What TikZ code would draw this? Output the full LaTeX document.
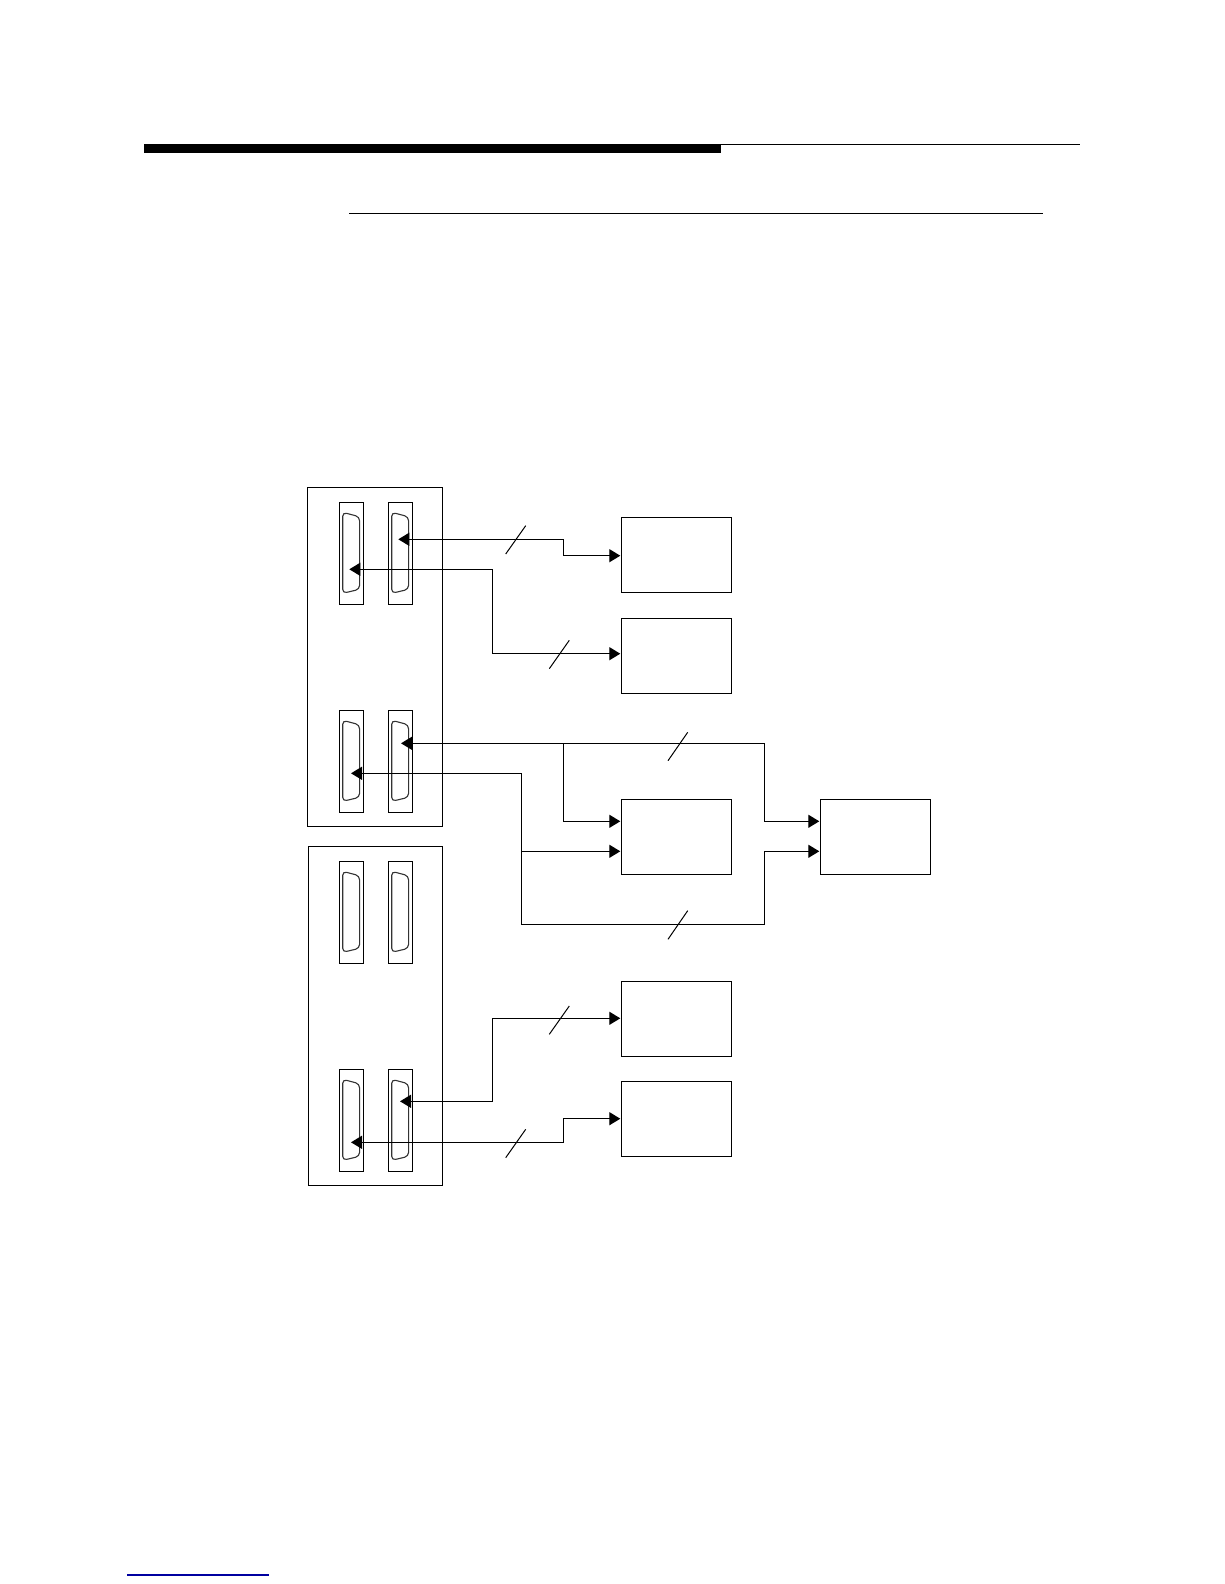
\documentclass[tikz,border=0pt]{standalone}
\usetikzlibrary{arrows.meta}
\definecolor{footblue}{RGB}{0,0,160}
\tikzset{
  line/.style={line width=1.3pt},
  panel/.style={draw,line width=1.3pt,inner sep=0pt,outer sep=0pt,anchor=north west},
  devbox/.style={panel,minimum width=110.4pt,minimum height=75pt},
  socket/.style={panel,minimum width=24pt,minimum height=102pt},
  shellline/.style={draw=black!80,line width=1.1pt,rounded corners=4pt},
  tick/.style={line width=1pt},
  wire/.style={line width=1.3pt,-{Triangle[length=11pt,width=13pt]},shorten >=1pt},
  wire2/.style={line width=1.3pt,{Triangle[length=11pt,width=13pt]}-{Triangle[length=11pt,width=13pt]},shorten >=1pt}
}
\newcommand{\dshell}[1]{%
  \draw[shellline,shift={(#1.north west)}] (3.4,10) -- (20.3,14.5) -- (20.3,87) -- (3.4,91) -- cycle;}
\begin{document}
\begin{tikzpicture}[x=1pt,y=-1pt]
\useasboundingbox (0,0) rectangle (1224,1584);
% page rules
\fill (144,144) rectangle (721,153);
\coordinate (ruleA) at (721,144.4);
\coordinate (ruleB) at (1080,144.4);
\draw[line] (ruleA) -- (ruleB);
\coordinate (ruleC) at (349,213.3);
\coordinate (ruleD) at (1043,213.3);
\draw[line] (ruleC) -- (ruleD);
\coordinate (footA) at (127,1575);
\coordinate (footB) at (268.7,1575);
\draw[line,draw=footblue] (footA) -- (footB);
% panels
\node[panel,minimum width=135.2pt,minimum height=339pt] (panelA) at (307.5,487.3) {};
\node[panel,minimum width=134.4pt,minimum height=339pt] (panelB) at (308.3,846.3) {};
% sockets
\node[socket] (s1a) at (339.3,502.3) {};
\node[socket] (s1b) at (388.3,502.3) {};
\node[socket] (s2a) at (339.3,710.3) {};
\node[socket] (s2b) at (388.3,710.3) {};
\node[socket] (s3a) at (339.3,861.3) {};
\node[socket] (s3b) at (388.3,861.3) {};
\node[socket] (s4a) at (339.3,1069.3) {};
\node[socket] (s4b) at (388.3,1069.3) {};
\foreach \s in {s1a,s1b,s2a,s2b,s3a,s3b,s4a,s4b}{\dshell{\s}}
% device boxes
\node[devbox] (d1) at (621.3,517.3) {};
\node[devbox] (d2) at (621.3,618.3) {};
\node[devbox] (d3) at (621.3,799.3) {};
\node[devbox] (d4) at (820.3,799.3) {};
\node[devbox] (d5) at (621.3,981.3) {};
\node[devbox] (d6) at (621.3,1081.3) {};
% connector ends
\coordinate (t1) at (398.3,539.3);
\coordinate (t2) at (349.3,569.3);
\coordinate (t3) at (401,743.3);
\coordinate (t4) at (351,773.3);
\coordinate (t5) at (400,1101.3);
\coordinate (t6) at (351,1142.3);
\coordinate (i1) at ([yshift=-0.9pt]d1.west);
\coordinate (i2) at ([yshift=2.1pt]d2.west);
\coordinate (i3a) at ([yshift=15.5pt]d3.west);
\coordinate (i3b) at ([yshift=-14.5pt]d3.west);
\coordinate (i4a) at ([yshift=15.5pt]d4.west);
\coordinate (i4b) at ([yshift=-14.5pt]d4.west);
\coordinate (i5) at ([yshift=0.5pt]d5.west);
\coordinate (i6) at ([yshift=0.1pt]d6.west);
\coordinate (j3) at (563.3,743.3);
\coordinate (j4) at (521.3,851.3);
% connectors
\draw[wire2] (t1) -- (563.3,539.3) -- (563.3,555.7) -- (i1);
\draw[wire2] (t2) -- (492.3,569.3) -- (492.3,653.7) -- (i2);
\draw[wire2] (t3) -- (764.3,743.3) -- (764.3,821.3) -- (i4a);
\draw[wire] (j3) -- (563.3,821.3) -- (i3a);
\draw[wire2] (t4) -- (521.3,773.3) -- (521.3,924.3) -- (764.3,924.3) -- (764.3,851.3) -- (i4b);
\draw[wire] (j4) -- (i3b);
\draw[wire2] (t5) -- (492.3,1101.3) -- (492.3,1018.3) -- (i5);
\draw[wire2] (t6) -- (563.3,1142.3) -- (563.3,1118.7) -- (i6);
% bus ticks
\draw[tick] (505.7,554) -- (525.7,525.7);
\draw[tick] (549.3,668.7) -- (569.3,640.3);
\draw[tick] (668,760.7) -- (687.7,732.3);
\draw[tick] (668,939.3) -- (687.7,910.7);
\draw[tick] (549.3,1034.3) -- (569.3,1006);
\draw[tick] (505.7,1157.7) -- (525.7,1129.3);
\end{tikzpicture}
\end{document}
